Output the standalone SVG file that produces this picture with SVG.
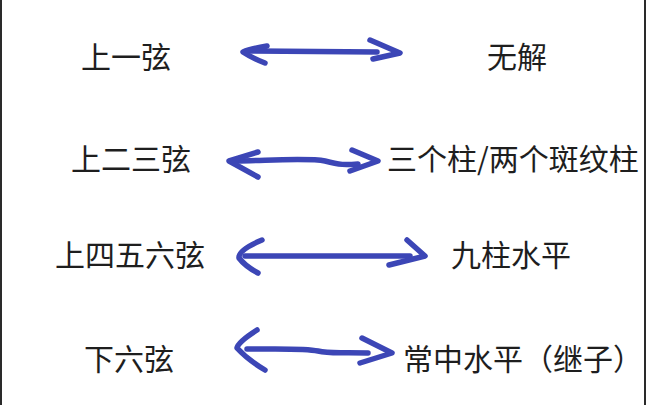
<svg xmlns="http://www.w3.org/2000/svg" width="648" height="405" viewBox="0 0 648 405">
  <style>
    .lbl { font-family: "Noto Sans CJK SC", "Noto Sans", sans-serif; font-size: 30px; fill: #1e1e1e; }
    .arr { fill: none; stroke: #3c46b6; stroke-width: 5.5; stroke-linecap: round; stroke-linejoin: round; }
    .edge { stroke: #2a2a2a; stroke-width: 2; }
  </style>
  <rect x="0" y="0" width="648" height="405" fill="#ffffff"/>
  <line class="edge" x1="1" y1="0" x2="1" y2="405"/>
  <line class="edge" x1="645" y1="0" x2="645" y2="405"/>

  <g id="n-l1"><text class="lbl" x="81" y="68">上一弦</text></g>
  <g id="n-r1"><text class="lbl" x="487" y="68">无解</text></g>
  <g id="n-l2"><text class="lbl" x="71" y="170">上二三弦</text></g>
  <g id="n-r2"><text class="lbl" x="387" y="170">三个柱/两个斑纹柱</text></g>
  <g id="n-l3"><text class="lbl" x="55" y="266">上四五六弦</text></g>
  <g id="n-r3"><text class="lbl" x="451" y="266">九柱水平</text></g>
  <g id="n-l4"><text class="lbl" x="84" y="370">下六弦</text></g>
  <g id="n-r4"><text class="lbl" x="403" y="370">常中水平（继子）</text></g>

  <g id="connectors">
    <g id="c1">
      <path class="arr" d="M250,51 L377,52"/>
      <path class="arr" d="M267,46 Q250,49 243,52 Q252,58 265,63"/>
      <path class="arr" d="M370,40 L400,53 L373,59"/>
    </g>
    <g id="c2">
      <path class="arr" d="M236,161 C280,160 310,158 325,161 C340,165 345,165 358,164"/>
      <path class="arr" d="M258,152 L229,161 L258,177"/>
      <path class="arr" d="M352,150 L378,161 L350,171"/>
    </g>
    <g id="c3">
      <path class="arr" d="M245,256 L410,256"/>
      <path class="arr" d="M262,240 Q238,250 239,258 Q245,266 258,273"/>
      <path class="arr" d="M407,240 L425,256 L389,265"/>
    </g>
    <g id="c4">
      <path class="arr" d="M247,349 C280,349 305,348 318,351 C330,354 340,352 368,353"/>
      <path class="arr" d="M257,330 Q238,342 237,348 Q248,360 265,370"/>
      <path class="arr" d="M362,338 L392,353 L360,363"/>
    </g>
  </g>
</svg>
